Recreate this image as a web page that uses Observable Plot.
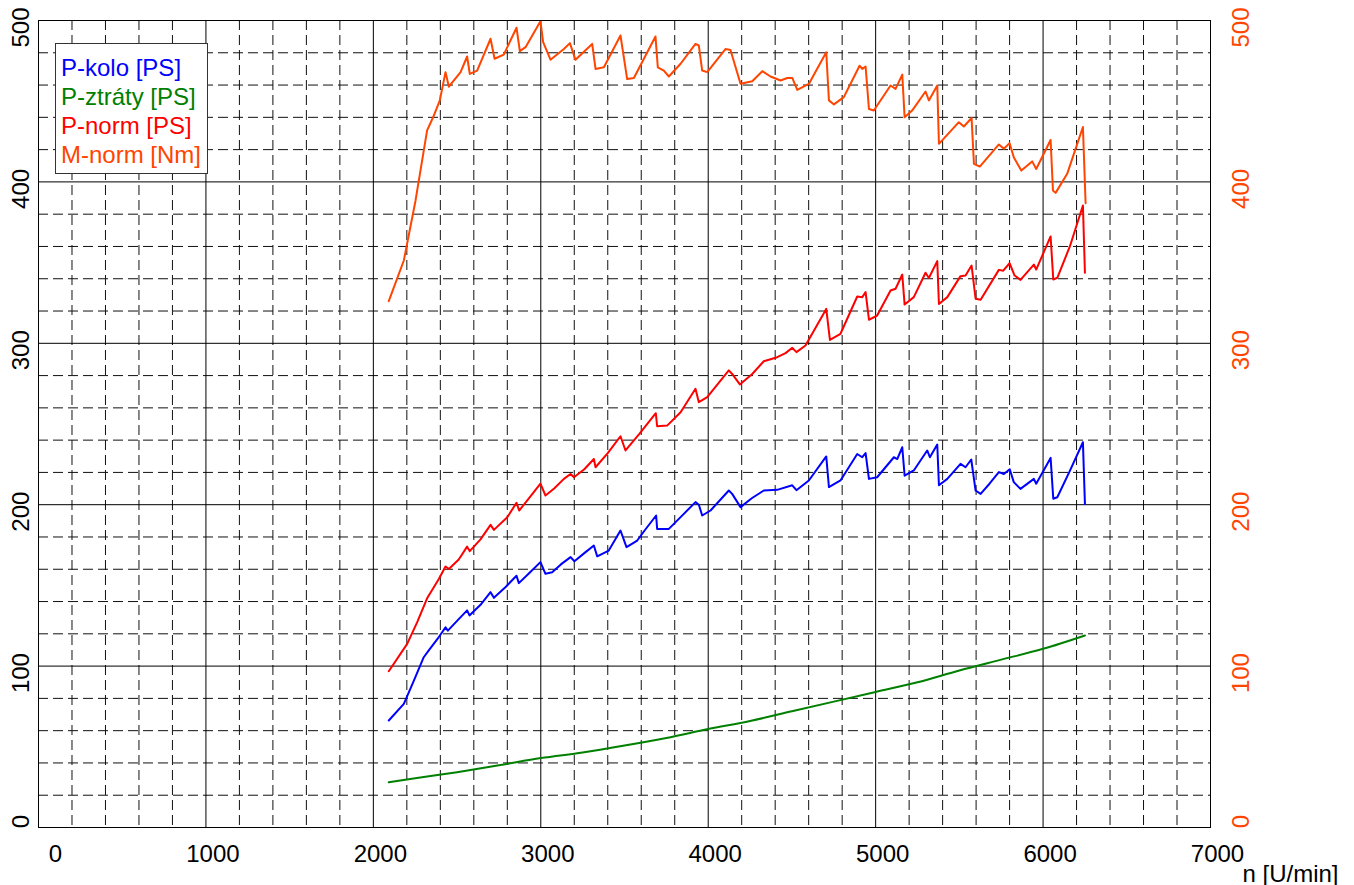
<!DOCTYPE html>
<html>
<head>
<meta charset="utf-8">
<script src="https://cdn.jsdelivr.net/npm/d3@7"></script>
<script src="https://cdn.jsdelivr.net/npm/@observablehq/plot@0.6"></script>
<style>
html, body { margin: 0; padding: 0; background: #fff; }
#wrap { position: relative; width: 1354px; height: 885px; overflow: hidden; font-family: "Liberation Sans", Arial, sans-serif; }
#legend { position: absolute; left: 55px; top: 43px; width: 146px; height: 120px; padding: 9px 0 0 5px; border: 1px solid #333; background: #fff; box-sizing: content-box; }
#legend div { font-size: 24px; line-height: 29px; white-space: nowrap; }
</style>
</head>
<body>
<div id="wrap"></div>
<script>
// Series: P-kolo [PS]
const koloN = [2092,2182,2242,2301,2331,2391,2431,2445,2500,2560,2574,2640,2700,2720,2790,2855,2869,2930,2998,3028,3068,3120,3178,3201,3260,3317,3337,3406,3476,3512,3576,3620,3689,3695,3765,3835,3924,3944,3964,4014,4123,4143,4193,4260,4332,4412,4502,4527,4601,4705,4721,4790,4890,4920,4940,4960,5009,5109,5129,5159,5173,5228,5308,5324,5368,5378,5428,5507,5537,5571,5597,5627,5680,5736,5766,5801,5825,5865,5945,5959,6045,6061,6085,6160,6238,6250];
const koloP = [66.3,76.6,91,105.5,109.7,118,124,122,128,134.5,131.4,138,145.8,142.3,149,156,151.4,157.5,164.4,157.2,158.1,163,167.5,165,170,174.7,168,171.6,184,173.7,177.8,184,193.3,185,185,192.3,201.6,200,193.3,196.4,208.8,206.7,198.5,204,208.8,209.2,212,209,215,229.9,210.9,215,231.4,229.4,232,216,217,229.4,228.3,235.6,218,221.2,233.6,229.4,237.3,212,216,225.3,223.2,228,208.8,206.7,213,220.2,219,222,214,209.8,216,213,229,203.7,204.6,221,238.7,200.5];

// Series: P-ztráty [PS]
const lossN = [2092,2250,2500,2750,3000,3250,3500,3750,4000,4250,4500,4750,5000,5250,5500,5750,6000,6250];
const lossP = [28,30.5,34.3,38.5,43,46.5,50.8,55.5,61,66,72,78,84,90,97.3,104,110.7,119];

// Series: P-norm [PS]
const normN = [2092,2202,2262,2321,2391,2431,2451,2510,2560,2576,2640,2700,2720,2800,2855,2871,2930,2998,3028,3080,3138,3178,3198,3260,3317,3327,3400,3476,3506,3590,3687,3695,3755,3835,3924,3944,3994,4123,4143,4189,4263,4332,4412,4462,4502,4527,4581,4705,4727,4790,4890,4920,4940,4960,5009,5089,5119,5159,5173,5228,5298,5318,5368,5378,5428,5507,5537,5573,5597,5627,5736,5762,5800,5830,5865,5945,5959,6045,6061,6085,6160,6238,6250];
const normP = [96.8,113.8,127.2,142,154,161.7,160.2,166,174,171.2,178.5,187.5,184.4,192.2,201.2,196.4,204,213,205.7,210,216,219,217,222,228.3,223.2,232,242.4,233.6,244,256.7,248.6,249,257.3,271.8,263.5,266.6,283.2,281,274.5,281,288.9,291.4,293.9,297.2,294.5,298.6,321.3,302.1,305.9,329,328.6,331.7,314.6,317.2,332.7,333.8,342.6,324,328.6,343.7,340.5,350.9,324.4,328.6,341.6,342,348.2,327.6,327,345.5,345,349.6,342,339.3,348.8,345.7,366.2,339.5,340.6,360,385.4,343.7];

// Series: M-norm [Nm]
const mN = [2092,2182,2252,2321,2361,2397,2431,2451,2521,2560,2576,2620,2700,2724,2779,2855,2875,2909,2998,3014,3058,3138,3174,3207,3307,3327,3377,3476,3516,3556,3685,3699,3735,3765,3835,3924,3944,3964,3994,4103,4133,4193,4263,4323,4372,4432,4472,4502,4532,4601,4705,4721,4751,4810,4904,4920,4940,4960,4989,5089,5119,5159,5173,5218,5298,5318,5368,5378,5497,5527,5573,5587,5622,5736,5766,5800,5825,5870,5935,5959,6045,6059,6075,6144,6238,6254];
const mV = [326.1,351.3,388.5,431.9,441,450.5,468,459,468,477.7,466.9,469,488.7,476.3,478.9,495.5,481,483.5,499.6,486.6,475.7,482.3,486,475.7,485.5,470,471,490.7,463.7,464.4,490.1,471,469,465.3,473.2,485.5,484.5,469,468,482.3,481.7,460.8,462.4,468.6,465.3,462.8,464.4,464.4,457,460.7,480.3,450.5,448,452.5,472,470,471.5,445.2,444.2,459.7,457.6,466.5,440,444.2,456,450.5,459.7,423.6,437,434.3,439.6,411.2,409.5,423.2,420.5,424,415.3,407,412.7,408,426,394.7,393.2,405,434,386.8];

// Legend & labels
const seriesNames = ["P-kolo [PS]", "P-ztráty [PS]", "P-norm [PS]", "M-norm [Nm]"];
const seriesColors = ["#0000ff", "#008000", "#ff0000", "#ff4500"];
const xTicks = [0,1000,2000,3000,4000,5000,6000,7000];
const yTicks = [0,100,200,300,400,500];
const xMinor = d3.range(200, 7000, 200).filter(d => d % 1000 !== 0);
const yMinor = d3.range(20, 500, 20).filter(d => d % 100 !== 0);
const xTitle = "n [U/min]";

const toRows = (ns, vs) => ns.map((n, i) => ({n, v: vs[i]}));

const yLab = (ticks, anchor, dx, dy, fill) =>
  Plot.text(ticks, {y: d => d, text: d => String(d), frameAnchor: anchor, textAnchor: "middle", lineAnchor: "middle", dx, dy, rotate: -90, fontSize: 24, fill});
const xLab = (ticks, dx) =>
  Plot.text(ticks, {x: d => d, text: d => String(d), frameAnchor: "bottom", textAnchor: "middle", lineAnchor: "middle", dx, dy: 27, fontSize: 24, fill: "#000"});

const chart = Plot.plot({
  width: 1354,
  height: 885,
  marginLeft: 38,
  marginRight: 144,
  marginTop: 20,
  marginBottom: 58,
  x: {domain: [0, 7000], axis: null},
  y: {domain: [0, 500], axis: null},
  style: {fontFamily: "'Liberation Sans', Arial, sans-serif", fontSize: "24px", background: "#fff", overflow: "visible"},
  marks: [
    Plot.ruleX(xMinor, {stroke: "#111", strokeWidth: 1, strokeDasharray: "10,5"}),
    Plot.ruleY(yMinor, {stroke: "#111", strokeWidth: 1, strokeDasharray: "10,5"}),
    Plot.ruleX(xTicks, {stroke: "#000", strokeWidth: 1}),
    Plot.ruleY(yTicks, {stroke: "#000", strokeWidth: 1}),
    Plot.line(toRows(lossN, lossP), {x: "n", y: "v", stroke: seriesColors[1], strokeWidth: 2, curve: "monotone-x"}),
    Plot.line(toRows(koloN, koloP), {x: "n", y: "v", stroke: seriesColors[0], strokeWidth: 2, strokeLinejoin: "round"}),
    Plot.line(toRows(normN, normP), {x: "n", y: "v", stroke: seriesColors[2], strokeWidth: 2, strokeLinejoin: "round"}),
    Plot.line(toRows(mN, mV), {x: "n", y: "v", stroke: seriesColors[3], strokeWidth: 2, strokeLinejoin: "round"}),
    Plot.frame({stroke: "#000", strokeWidth: 1}),
    yLab(yTicks.filter(d => d > 0), "left", -17, 7, "#000"),
    yLab([0], "left", -17, -6, "#000"),
    yLab(yTicks.filter(d => d > 0), "right", 31, 7, seriesColors[3]),
    yLab([0], "right", 31, -6, seriesColors[3]),
    xLab(xTicks.filter(d => d > 0), 7),
    xLab([0], 17),
    Plot.text([xTitle], {text: d => d, frameAnchor: "bottom-right", dx: 128, dy: 54, textAnchor: "end", lineAnchor: "bottom", fontSize: 24, fill: "#000"})
  ]
});

const wrap = document.getElementById("wrap");
wrap.appendChild(chart);
const legend = document.createElement("div");
legend.id = "legend";
seriesNames.forEach((name, i) => {
  const row = document.createElement("div");
  row.textContent = name;
  row.style.color = seriesColors[i];
  legend.appendChild(row);
});
wrap.appendChild(legend);
</script>
</body>
</html>
